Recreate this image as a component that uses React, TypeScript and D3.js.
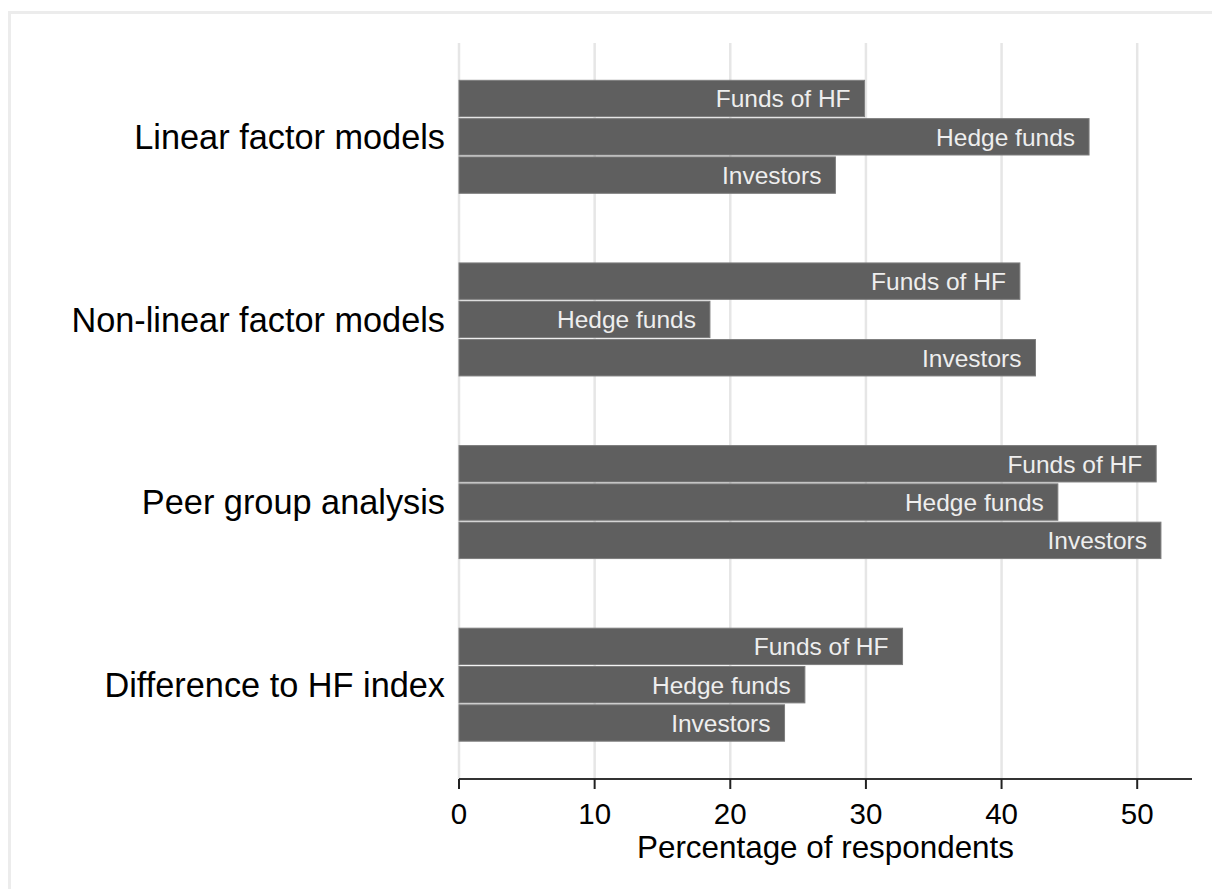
import React from "react";
import * as d3 from "d3";

const categories = [
  "Linear factor models",
  "Non-linear factor models",
  "Peer group analysis",
  "Difference to HF index",
];
const series = ["Funds of HF", "Hedge funds", "Investors"];
const fundsOfHF = [29.9, 41.35, 51.4, 32.7];
const hedgeFunds = [46.45, 18.5, 44.15, 25.5];
const investors = [27.75, 42.5, 51.75, 24.0];
const xTicks = [0, 10, 20, 30, 40, 50];
const xTitle = "Percentage of respondents";

const W = 1212;
const H = 889;
const FONT = "'Liberation Sans', Arial, Helvetica, sans-serif";

export default function App() {
  const values = [fundsOfHF, hedgeFunds, investors];
  const x = d3.scaleLinear().domain([0, 54.04]).range([459, 1192]);
  const y = d3.scaleBand<string>().domain(categories).range([45.5, 776]).padding(0);
  const inner = d3
    .scaleBand<string>()
    .domain(series)
    .range([-56.5, 56.5])
    .paddingInner(0.05);
  const plotTop = 43;
  const axisY = 779;

  return (
    <svg
      width={W}
      height={H}
      style={{ position: "absolute", left: 0, top: 0, background: "#fff" }}
    >
      <rect x={0} y={0} width={W} height={H} fill="#fff" />
      <rect
        x={9.5}
        y={12.5}
        width={W + 20}
        height={H + 20}
        fill="none"
        stroke="#ececec"
        strokeWidth={3}
      />
      {xTicks.map((t) => (
        <line
          key={"g" + t}
          x1={x(t)}
          x2={x(t)}
          y1={plotTop}
          y2={axisY}
          stroke="#e6e6e6"
          strokeWidth={2.5}
        />
      ))}
      {categories.map((c, ci) => {
        const cy = (y(c) as number) + y.bandwidth() / 2;
        return (
          <g key={c}>
            <text
              x={445}
              y={cy}
              dy="0.36em"
              textAnchor="end"
              fontFamily={FONT}
              fontSize={34.3}
              fill="#000"
            >
              {c}
            </text>
            {series.map((s, si) => {
              const v = values[si][ci];
              const by = cy + (inner(s) as number);
              const bh = inner.bandwidth();
              return (
                <g key={s}>
                  <rect
                    x={x(0)}
                    y={by}
                    width={x(v) - x(0)}
                    height={bh}
                    fill="#5f5f5f"
                    stroke="#7d7d7d"
                    strokeWidth={1}
                  />
                  <text
                    x={x(v) - 14}
                    y={by + bh / 2}
                    dy="0.36em"
                    textAnchor="end"
                    fontFamily={FONT}
                    fontSize={24.5}
                    fill="#eeeeee"
                  >
                    {s}
                  </text>
                </g>
              );
            })}
          </g>
        );
      })}
      <line x1={x(0)} x2={1192} y1={axisY} y2={axisY} stroke="#333" strokeWidth={2} />
      {xTicks.map((t) => (
        <g key={"t" + t}>
          <line x1={x(t)} x2={x(t)} y1={axisY} y2={789} stroke="#222" strokeWidth={2} />
          <text
            x={x(t)}
            y={823.5}
            textAnchor="middle"
            fontFamily={FONT}
            fontSize={29.5}
            fill="#000"
          >
            {t}
          </text>
        </g>
      ))}
      <text
        x={(x(0) + 1192) / 2}
        y={858}
        textAnchor="middle"
        fontFamily={FONT}
        fontSize={30.5}
        textLength={377}
        lengthAdjust="spacingAndGlyphs"
        fill="#000"
      >
        {xTitle}
      </text>
    </svg>
  );
}
